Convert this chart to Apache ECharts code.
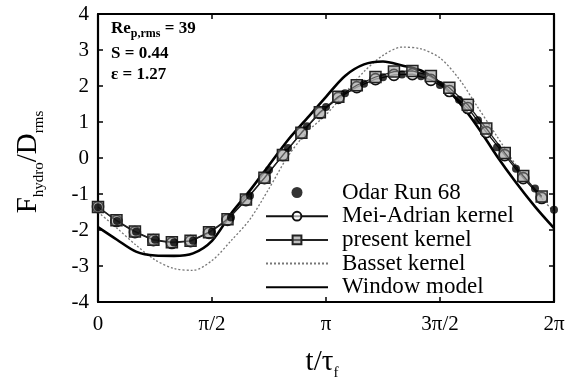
<!DOCTYPE html>
<html>
<head>
<meta charset="utf-8">
<script src="https://cdn.jsdelivr.net/npm/echarts@6/dist/echarts.min.js"></script>
<style>html,body{margin:0;padding:0;background:#fff;}#c{width:578px;height:382px;}</style>
</head>
<body>
<div id="c"></div>
<script>
// x values in units of pi (t/tau_f divided by pi)
const xTicks = [0, 0.5, 1, 1.5, 2];
const xTickLabels = ['0', 'π/2', 'π', '3π/2', '2π'];
const yTicks = [-4, -3, -2, -1, 0, 1, 2, 3, 4];

const odarX = [0, 0.0833, 0.1667, 0.25, 0.3333, 0.4167, 0.5, 0.5833, 0.6667, 0.75, 0.8333, 0.9167, 1, 1.0833, 1.1667, 1.25, 1.3333, 1.4167, 1.5, 1.5833, 1.6667, 1.75, 1.8333, 1.9167, 2];
const odarY = [-1.37, -1.75, -2.05, -2.27, -2.35, -2.3, -2.05, -1.65, -1.05, -0.33, 0.28, 0.88, 1.42, 1.8, 2.06, 2.24, 2.32, 2.27, 2.03, 1.62, 1.05, 0.3, -0.3, -0.85, -1.44];

const modelX = [0, 0.081, 0.162, 0.243, 0.324, 0.406, 0.487, 0.568, 0.649, 0.730, 0.811, 0.892, 0.973, 1.054, 1.135, 1.217, 1.298, 1.379, 1.460, 1.541, 1.622, 1.703, 1.784, 1.865, 1.946];
const meiY = [-1.36, -1.75, -2.06, -2.28, -2.36, -2.31, -2.08, -1.72, -1.17, -0.56, 0.08, 0.69, 1.25, 1.67, 1.97, 2.19, 2.31, 2.33, 2.17, 1.86, 1.39, 0.72, 0.08, -0.56, -1.11];
const presentY = [-1.36, -1.73, -2.04, -2.27, -2.34, -2.3, -2.06, -1.7, -1.15, -0.55, 0.08, 0.7, 1.27, 1.7, 2.02, 2.25, 2.4, 2.42, 2.28, 1.95, 1.48, 0.82, 0.14, -0.5, -1.07];

const curveX = odarX;
const bassetY = [-1.5, -1.95, -2.42, -2.83, -3.07, -3.12, -2.85, -2.3, -1.7, -0.85, 0.05, 0.72, 1.2, 1.8, 2.4, 2.85, 3.08, 3.03, 2.78, 2.2, 1.4, 0.6, -0.2, -0.9, -1.5];
const windowY = [-1.92, -2.27, -2.6, -2.71, -2.72, -2.65, -2.3, -1.55, -0.9, -0.2, 0.5, 1.1, 1.7, 2.28, 2.6, 2.68, 2.57, 2.43, 2.08, 1.55, 0.85, 0.05, -0.68, -1.35, -1.95];

const seriesNames = ['Odar Run 68', 'Mei-Adrian kernel', 'present kernel', 'Basset kernel', 'Window model'];

function pairs(xs, ys) { return xs.map((x, i) => [x, ys[i]]); }

const serif = '"Liberation Serif", "DejaVu Serif", serif';
const chart = echarts.init(document.getElementById('c'), null, { renderer: 'canvas' });

const axisCommon = {
  axisLine: { show: true, onZero: false, lineStyle: { color: '#000', width: 2.2 } },
  axisTick: { show: true, inside: true, length: 5, lineStyle: { color: '#000', width: 1.5 } },
  splitLine: { show: false }
};

chart.setOption({
  animation: false,
  backgroundColor: '#fff',
  grid: { left: 98, right: 24, top: 14, bottom: 80, containLabel: false },
  xAxis: [
    Object.assign({
      type: 'value', min: 0, max: 2, interval: 0.5, position: 'bottom',
      axisLabel: {
        margin: 12, color: '#000', fontFamily: serif, fontSize: 21,
        formatter: v => { const i = xTicks.indexOf(v); return i >= 0 ? xTickLabels[i] : ''; }
      }
    }, axisCommon),
    Object.assign({
      type: 'value', min: 0, max: 2, interval: 0.5, position: 'top', axisLabel: { show: false }
    }, axisCommon)
  ],
  yAxis: [
    Object.assign({
      type: 'value', min: yTicks[0], max: yTicks[yTicks.length - 1], interval: 1, position: 'left',
      axisLabel: { margin: 9, color: '#000', fontFamily: serif, fontSize: 21 }
    }, axisCommon),
    Object.assign({
      type: 'value', min: yTicks[0], max: yTicks[yTicks.length - 1], interval: 1, position: 'right', axisLabel: { show: false }
    }, axisCommon)
  ],
  legend: {
    orient: 'vertical', left: 265, top: 181, itemWidth: 62, itemHeight: 11, itemGap: 0.7,
    padding: 0,
    textStyle: { fontFamily: serif, fontSize: 23, color: '#000', lineHeight: 20, padding: [0, 0, 0, 9] },
    data: [
      { name: seriesNames[0] },
      { name: seriesNames[1] },
      { name: seriesNames[2] },
      { name: seriesNames[3], itemStyle: { opacity: 0 } },
      { name: seriesNames[4], itemStyle: { opacity: 0 } }
    ]
  },
  series: [
    {
      name: seriesNames[3], type: 'line', data: pairs(curveX, bassetY), smooth: 0.3, showSymbol: false, symbol: 'none',
      lineStyle: { color: '#777', width: 1.3, type: [2, 2] }, itemStyle: { color: '#777' }, z: 2
    },
    {
      name: seriesNames[4], type: 'line', data: pairs(curveX, windowY), smooth: 0.3, showSymbol: false, symbol: 'none',
      lineStyle: { color: '#000', width: 2.6 }, itemStyle: { color: '#000' }, z: 3
    },
    {
      name: seriesNames[1], type: 'line', data: pairs(modelX, meiY), symbol: 'circle', symbolSize: 11,
      lineStyle: { color: '#111', width: 1.3 },
      itemStyle: { color: 'rgba(255,255,255,0.6)', borderColor: '#111', borderWidth: 1.6 }, z: 4
    },
    {
      name: seriesNames[2], type: 'line', data: pairs(modelX, presentY), symbol: 'rect', symbolSize: 11,
      lineStyle: { color: '#222', width: 1.3 },
      itemStyle: { color: 'rgba(140,140,140,0.55)', borderColor: '#222', borderWidth: 1.5 }, z: 5
    },
    {
      name: seriesNames[0], type: 'scatter', data: pairs(odarX, odarY), symbol: 'circle', symbolSize: 8,
      itemStyle: { color: '#000' }, z: 6
    }
  ],
  graphic: [
    {
      type: 'text', left: 111, top: 20, z: 10,
      style: {
        text: '{a|Re}{b|p,rms}{a| = 39}',
        rich: {
          a: { fontFamily: serif, fontSize: 17, fontWeight: 'bold', fill: '#000', lineHeight: 20, verticalAlign: 'bottom' },
          b: { fontFamily: serif, fontSize: 12, fontWeight: 'bold', fill: '#000', lineHeight: 14, verticalAlign: 'bottom', padding: [0, 0, -3, 0] }
        }
      }
    },
    {
      type: 'text', left: 111, top: 45, z: 10,
      style: { text: 'S = 0.44', font: 'bold 17px ' + serif, fill: '#000' }
    },
    {
      type: 'text', left: 111, top: 66, z: 10,
      style: { text: 'ε = 1.27', font: 'bold 17px ' + serif, fill: '#000' }
    },
    {
      type: 'text', x: 28, y: 162, rotation: Math.PI / 2, z: 10,
      style: {
        text: '{a|F}{b|hydro}{a|/D}{b|rms}', align: 'center', verticalAlign: 'middle',
        rich: {
          a: { fontFamily: serif, fontSize: 29, fill: '#000', lineHeight: 30, verticalAlign: 'bottom' },
          b: { fontFamily: serif, fontSize: 15, fill: '#000', lineHeight: 15, verticalAlign: 'bottom', padding: [0, 0, -4, 0] }
        }
      }
    },
    {
      type: 'text', x: 322, y: 362, z: 10,
      style: {
        text: '{a|t/τ}{b|f}', align: 'center', verticalAlign: 'middle',
        rich: {
          a: { fontFamily: serif, fontSize: 29, fill: '#000', lineHeight: 30, verticalAlign: 'bottom' },
          b: { fontFamily: serif, fontSize: 15, fill: '#000', lineHeight: 15, verticalAlign: 'bottom', padding: [0, 0, -4, 0] }
        }
      }
    }
  ]
});
</script>
</body>
</html>
